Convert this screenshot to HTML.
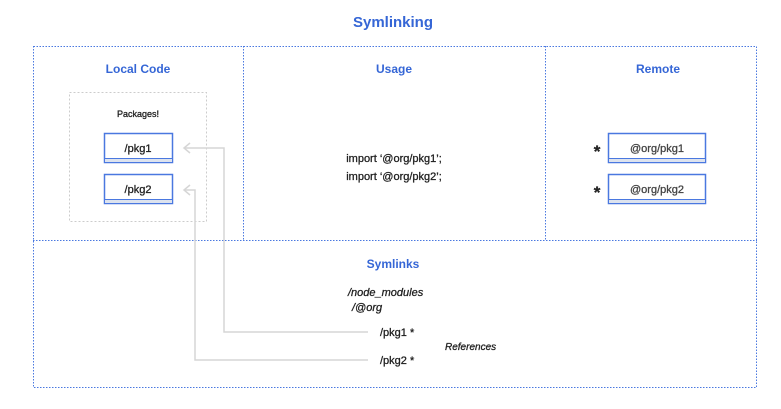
<!DOCTYPE html>
<html><head><meta charset="utf-8"><style>
body{margin:0;background:#fff;width:781px;height:409px;overflow:hidden;font-family:"Liberation Sans",sans-serif}
svg{position:absolute;left:0;top:0}
</style></head><body>
<svg width="781" height="409" viewBox="0 0 781 409">
<g fill="none" stroke="#4a78e0" stroke-width="1" stroke-dasharray="1.5,1.5">
<rect x="33.5" y="46.5" width="723" height="341"/>
<line x1="33" y1="240.5" x2="757" y2="240.5"/>
<line x1="243.5" y1="46" x2="243.5" y2="240"/>
<line x1="545.5" y1="46" x2="545.5" y2="240"/>
</g>
<rect x="69.5" y="92.5" width="137" height="129" fill="none" stroke="#ccc" stroke-dasharray="2,2"/>
<g fill="#fff" stroke="#4a78e0" stroke-width="1.5">
<rect x="104.5" y="133.5" width="68" height="29"/>
<rect x="104.5" y="174.5" width="68" height="29"/>
<rect x="608.5" y="133.5" width="97" height="29"/>
<rect x="608.5" y="174.5" width="97" height="29"/>
</g>
<g fill="#dde3ee" stroke="#4a78e0" stroke-width="1">
<rect x="104.5" y="158.5" width="68" height="4"/>
<rect x="104.5" y="199.5" width="68" height="4"/>
<rect x="608.5" y="158.5" width="97" height="4"/>
<rect x="608.5" y="199.5" width="97" height="4"/>
</g>
<g fill="none" stroke="#d6d6d6" stroke-width="1.5">
<polyline points="184,148 224,148 224,332 368,332"/>
<polyline points="184,190 195,190 195,360 368,360"/>
<polyline points="190,143 184,148 190,153"/>
<polyline points="190,185 184,190 190,195"/>
</g>
<g font-family="Liberation Sans, sans-serif" font-weight="bold" fill="#3566d6" text-anchor="middle">
<text x="393" y="27" font-size="15">Symlinking</text>
<text x="138" y="73" font-size="12">Local Code</text>
<text x="394" y="73" font-size="12">Usage</text>
<text x="658" y="73" font-size="12">Remote</text>
<text x="393" y="268" font-size="12">Symlinks</text>
</g>
<g font-family="Liberation Sans, sans-serif" fill="#222" stroke="#222" stroke-width="0.3" font-size="11">
<text x="138" y="117" text-anchor="middle" font-size="9">Packages!</text>
<text x="138" y="152" text-anchor="middle">/pkg1</text>
<text x="138" y="193" text-anchor="middle">/pkg2</text>
<text x="657" y="152" text-anchor="middle" fill="#444" stroke="#444">@org/pkg1</text>
<text x="657" y="193" text-anchor="middle" fill="#444" stroke="#444">@org/pkg2</text>
<text x="597" y="157" text-anchor="middle" font-size="17" font-weight="bold">*</text>
<text x="597" y="198" text-anchor="middle" font-size="17" font-weight="bold">*</text>
<text x="394" y="162" text-anchor="middle">import ‘@org/pkg1’;</text>
<text x="394" y="180" text-anchor="middle">import ‘@org/pkg2’;</text>
<text x="348" y="296" font-style="italic">/node_modules</text>
<text x="352" y="311" font-style="italic">/@org</text>
<text x="380" y="336">/pkg1 <tspan font-size="11">*</tspan></text>
<text x="380" y="364">/pkg2 <tspan font-size="11">*</tspan></text>
<text x="445" y="350" font-style="italic" font-size="10">References</text>
</g>
</svg>
</body></html>
